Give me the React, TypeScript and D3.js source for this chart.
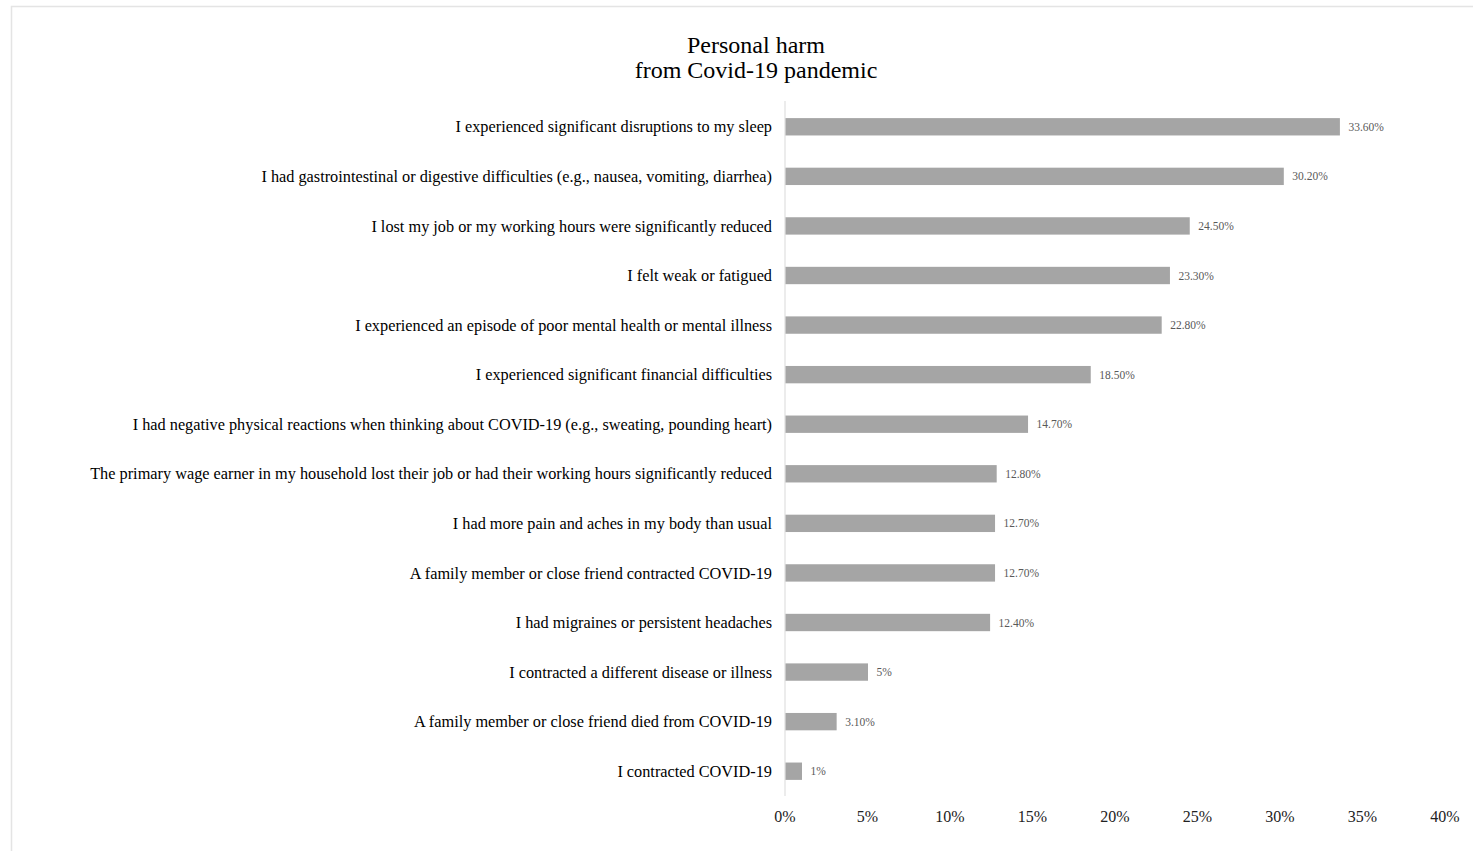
import React from "react";
import * as d3 from "d3";

const categories = [
  "I experienced significant disruptions to my sleep",
  "I had gastrointestinal or digestive difficulties (e.g., nausea, vomiting, diarrhea)",
  "I lost my job or my working hours were significantly reduced",
  "I felt weak or fatigued",
  "I experienced an episode of poor mental health or mental illness",
  "I experienced significant financial difficulties",
  "I had negative physical reactions when thinking about COVID-19 (e.g., sweating, pounding heart)",
  "The primary wage earner in my household lost their job or had their working hours significantly reduced",
  "I had more pain and aches in my body than usual",
  "A family member or close friend contracted COVID-19",
  "I had migraines or persistent headaches",
  "I contracted a different disease or illness",
  "A family member or close friend died from COVID-19",
  "I contracted COVID-19",
];
const values = [33.6, 30.2, 24.5, 23.3, 22.8, 18.5, 14.7, 12.8, 12.7, 12.7, 12.4, 5, 3.1, 1];
const valueLabels = ["33.60%", "30.20%", "24.50%", "23.30%", "22.80%", "18.50%", "14.70%", "12.80%", "12.70%", "12.70%", "12.40%", "5%", "3.10%", "1%"];
const ticks = [0, 5, 10, 15, 20, 25, 30, 35, 40];
const titleLines = ["Personal harm", "from Covid-19 pandemic"];

export default function App() {
  const W = 1473, H = 851;
  const font = "'Liberation Serif', 'Times New Roman', serif";
  const x = d3.scaleLinear().domain([0, 40]).range([785, 1445]);
  const y = d3.scaleBand<string>().domain(categories).range([102, 796]).paddingInner(0.65).paddingOuter(0.325);
  return (
    <svg width={W} height={H} style={{ position: "absolute", left: 0, top: 0 }} fontFamily={font}>
      <rect x={0} y={0} width={W} height={H} fill="#fff" />
      <rect x={11.5} y={6.5} width={W} height={H} fill="none" stroke="#e4e4e4" strokeWidth={1.5} />
      {titleLines.map((t, i) => (
        <text key={i} x={756} y={53 + i * 24.5} textAnchor="middle" fontSize={24} fill="#000">{t}</text>
      ))}
      <line x1={x(0)} x2={x(0)} y1={101} y2={796} stroke="#d9d9d9" strokeWidth={1} />
      {categories.map((c, i) => (
        <g key={c}>
          <rect x={x(0) + 0.5} y={y(c)!} width={x(values[i]) - x(0)} height={y.bandwidth()} fill="#a5a5a5" />
          <text x={x(values[i]) + 9} y={y(c)! + y.bandwidth() / 2} dy="0.35em" fontSize={11.5} fill="#595959">{valueLabels[i]}</text>
          <text x={772} y={y(c)! + y.bandwidth() / 2} dy="0.35em" textAnchor="end" fontSize={16.3} fill="#000">{c}</text>
        </g>
      ))}
      {ticks.map((t) => (
        <text key={t} x={x(t)} y={816} dy="0.35em" textAnchor="middle" fontSize={16} fill="#222">{t}%</text>
      ))}
    </svg>
  );
}
